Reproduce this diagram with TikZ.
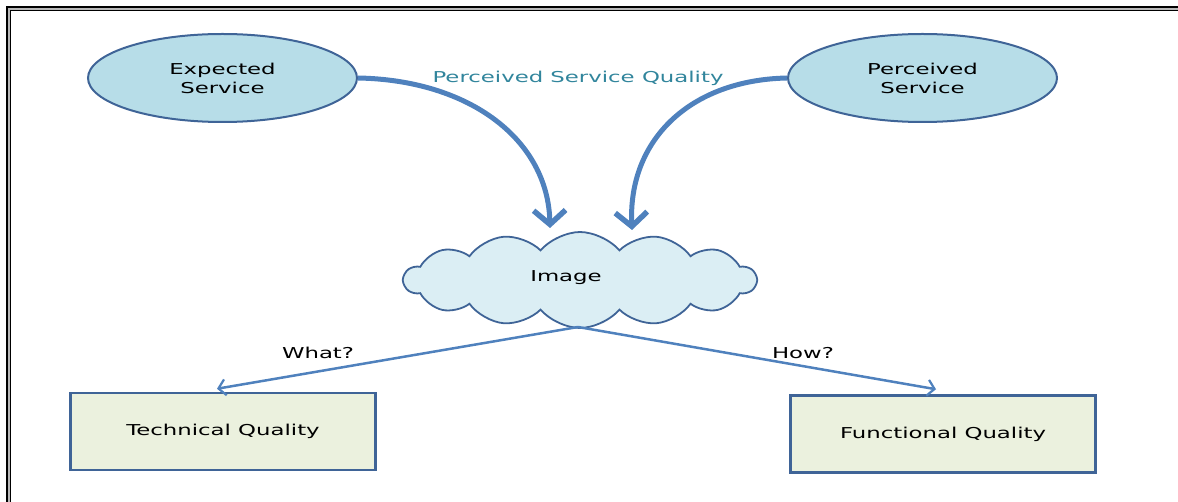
\documentclass[tikz,border=0pt]{standalone}
\usepackage{fontspec}
\setmainfont{DejaVu Sans}[FakeStretch=1.52]
\usetikzlibrary{shapes.geometric,shapes.symbols,arrows.meta}
\definecolor{edgeblue}{HTML}{3F6497}
\definecolor{arrowblue}{HTML}{4F81BD}
\definecolor{ovalfill}{HTML}{B7DDE8}
\definecolor{cloudfill}{HTML}{DBEEF4}
\definecolor{boxfill}{HTML}{EBF1DE}
\definecolor{titleteal}{HTML}{31859C}
\tikzset{
  oval/.style={ellipse, draw=edgeblue, line width=2pt, fill=ovalfill,
    minimum width=269pt, minimum height=88pt, inner sep=0pt, align=center,
    font=\fontsize{15}{19}\selectfont},
  qualitybox/.style={rectangle, draw=edgeblue, line width=2.5pt, fill=boxfill,
    minimum width=305pt, minimum height=77pt, inner sep=0pt,
    font=\fontsize{15}{19}\selectfont},
  imagecloud/.style={cloud, draw=edgeblue, line width=1.8pt, fill=cloudfill,
    cloud puffs=14, cloud puff arc=100, aspect=3.4,
    minimum width=352pt, minimum height=96pt, inner sep=0pt},
  plainlabel/.style={inner sep=0pt, font=\fontsize{15}{19}\selectfont},
  bigarrow/.style={draw=arrowblue, line width=5pt,
    -{Straight Barb[length=14pt, width=32pt, line width=5.5pt]}},
  thinarrow/.style={draw=arrowblue, line width=2.5pt,
    -{Straight Barb[length=7pt, width=16pt, line width=2.2pt]}}
}
\begin{document}
\begin{tikzpicture}[x=1pt, y=-1pt]
  \useasboundingbox (0,0) rectangle (1178,502);
  \clip (0,0) rectangle (1178,502);
  % double page frame
  \draw[gray!55, line width=4pt] (8.8,8.8) rectangle (1200,530);
  \draw[black, line width=1.3pt] (7,7) rectangle (1210,540);
  \draw[black, line width=1.3pt] (10.6,10.6) rectangle (1196,526);

  % the two service ovals
  \node[oval] (exp) at (222.5,78) {Expected\\Service};
  \node[oval] (per) at (922.5,78) {Perceived\\Service};
  \node[plainlabel, text=titleteal] (psq) at (578,78) {Perceived Service Quality};

  % the image cloud
  \node[imagecloud] (img) at (580,280) {};
  \node[plainlabel] (imgtxt) at (566,278) {Image};

  % the two quality boxes
  \node[qualitybox] (tq) at (223,431.5) {Technical Quality};
  \node[qualitybox] (fq) at (943,434) {Functional Quality};

  % curved arrows into the cloud
  \coordinate (tipL) at (550,228);
  \coordinate (tipR) at (632,230);
  \draw[bigarrow] (exp.east) .. controls (470,80) and (548,140) .. (tipL);
  \draw[bigarrow] (per.west) .. controls (690,80) and (628,140) .. (tipR);

  % arrows from the cloud to the quality boxes
  \coordinate (fork) at (578,327);
  \draw[thinarrow] (fork) -- ([xshift=-6pt, yshift=3pt]tq.north);
  \draw[thinarrow] (fork) -- ([xshift=-7pt, yshift=5pt]fq.north);
  \node[plainlabel] (what) at (318,353) {What?};
  \node[plainlabel] (how) at (803,353) {How?};
\end{tikzpicture}
\end{document}
